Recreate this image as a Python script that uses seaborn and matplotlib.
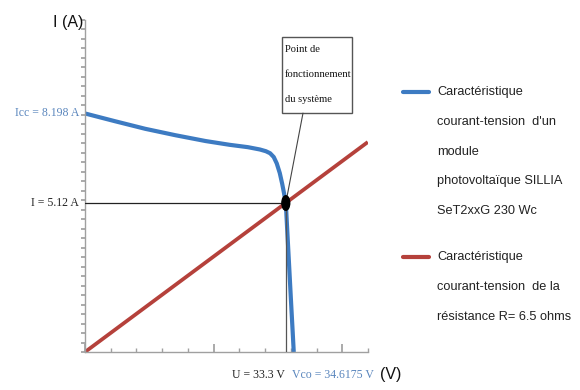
import numpy as np
import pandas as pd
import matplotlib
matplotlib.use("Agg")
import matplotlib.pyplot as plt
from matplotlib.patches import Ellipse, Rectangle
from matplotlib.lines import Line2D
import seaborn as sns

# Module I-V characteristic (V, A)
module_v = [0, 5, 10, 15, 20, 24, 27, 29, 30, 30.7, 31.3, 31.8, 32.3, 32.7, 33.0,
            33.3, 33.6, 33.9, 34.2, 34.45, 34.6175]
module_i = [8.198, 7.93, 7.67, 7.45, 7.25, 7.12, 7.04, 6.96, 6.90, 6.83, 6.70, 6.48,
            6.15, 5.78, 5.46, 5.12, 3.94, 2.77, 1.60, 0.65, 0.0]

# Load resistance characteristic
R_ohm = 6.5
load_v = np.array([0.0, 46.9])
load_i = load_v / R_ohm

# Operating point and characteristic values
U_op, I_op = 33.3, 5.12
Icc = 8.198
Vco = 34.6175

XMAX, YMAX = 46.93, 11.41

BLUE = "#3d7bc2"
BLUE_TXT = "#5a86bd"
RED = "#b5413b"
AXIS = "#a0a0a0"

sns.set_theme(style="white")
plt.rcParams["font.family"] = ["Liberation Serif", "DejaVu Serif"]

fig = plt.figure(figsize=(5.8, 3.9), dpi=100)
ax = fig.add_axes([85 / 580, 38 / 390, 283 / 580, 332 / 390])

df_mod = pd.DataFrame({"U": module_v, "I": module_i})
df_load = pd.DataFrame({"U": load_v, "I": load_i})

sns.lineplot(data=df_load, x="U", y="I", sort=False, color=RED, lw=2.7, ax=ax,
             solid_capstyle="butt")
sns.lineplot(data=df_mod, x="U", y="I", sort=False, color=BLUE, lw=3.0, ax=ax,
             solid_capstyle="butt")

# Guide lines to the operating point
ax.plot([0, U_op], [I_op, I_op], color="#222222", lw=0.9, zorder=3)
ax.plot([U_op, U_op], [0, I_op], color="#555555", lw=0.9, zorder=3)
ax.add_patch(Ellipse((U_op, I_op), width=1.3, height=0.5, color="black", zorder=5))

ax.set_xlim(0, XMAX)
ax.set_ylim(0, YMAX)
ax.set_xlabel("")
ax.set_ylabel("")

for s in ["top", "right"]:
    ax.spines[s].set_visible(False)
for s in ["left", "bottom"]:
    ax.spines[s].set_color(AXIS)
    ax.spines[s].set_linewidth(1.0)

xt = np.linspace(0, XMAX, 12)
ax.set_xticks(xt[[0, 5, 10]])
ax.set_xticks(xt, minor=True)
yt = np.linspace(0, YMAX, 36)
ax.set_yticks(yt)
ax.tick_params(axis="x", which="major", direction="in", length=6, color=AXIS,
               labelbottom=False, bottom=True)
ax.tick_params(axis="x", which="minor", direction="in", length=3, color=AXIS,
               bottom=True)
ax.tick_params(axis="y", which="major", direction="out", length=3, color=AXIS,
               labelleft=False, left=True)

# Value labels
ax.text(-1.0, Icc, "Icc = 8.198 A", color=BLUE_TXT, fontsize=8.5,
        ha="right", va="center")
ax.text(-1.0, I_op, "I = 5.12 A", color="#222222", fontsize=8.5,
        ha="right", va="center")
ax.text(U_op - 0.1, -0.78, "U = 33.3 V", color="#222222", fontsize=8.5,
        ha="right", va="center")
ax.text(Vco - 0.25, -0.78, "Vco = 34.6175 V", color=BLUE_TXT, fontsize=8.5,
        ha="left", va="center")

sans = ["Liberation Sans Narrow", "Liberation Sans", "DejaVu Sans"]
fig.text(68 / 580, 1 - 22 / 390, "I (A)", fontsize=11.5, family=sans,
         ha="center", va="center", color="#111111")
fig.text(391 / 580, 1 - 375 / 390, "(V)", fontsize=11.5, family=sans,
         ha="center", va="center", color="#111111")

# Callout box with pointer to the operating point
box_x0, box_x1 = 32.67, 44.28
box_y0, box_y1 = 8.21, 10.82
ax.add_patch(Rectangle((box_x0, box_y0), box_x1 - box_x0, box_y1 - box_y0,
                       fc="white", ec="#555555", lw=1.0, zorder=4, clip_on=False))
for k, line in enumerate(["Point de", "fonctionnement", "du système"]):
    ax.text(box_x0 + 0.45, 10.38 - 0.845 * k, line, fontsize=7.6, ha="left",
            va="center", color="#111111", zorder=6)
ax.plot([36.15, U_op], [box_y0, I_op], color="#444444", lw=0.8, zorder=4)

# Legend drawn beside the plot
legend_items = [
    (BLUE, 92, ["Caractéristique", "courant-tension  d'un", "module",
                "photovoltaïque SILLIA", "SeT2xxG 230 Wc"]),
    (RED, 257, ["Caractéristique", "courant-tension  de la",
                "résistance R= 6.5 ohms"]),
]
for color, ytop, lines in legend_items:
    fig.add_artist(Line2D([403 / 580, 429 / 580], [1 - ytop / 390] * 2,
                          color=color, lw=3.0, transform=fig.transFigure))
    for k, line in enumerate(lines):
        fig.text(437 / 580, 1 - (ytop + 29.8 * k) / 390, line, fontsize=9.2,
                 family=sans, ha="left", va="center", color="#222222")

fig.savefig("out.png", dpi=100)
